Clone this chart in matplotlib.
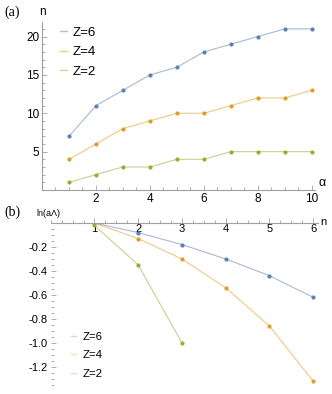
import matplotlib
matplotlib.use("Agg")
import matplotlib.pyplot as plt
from matplotlib.lines import Line2D
from matplotlib.ticker import MultipleLocator

plt.rcParams["font.family"] = ["Liberation Sans", "DejaVu Sans"]

BLUE = "#5E81B5"
ORANGE = "#E19C24"
GREEN = "#8FB032"
AXIS = "#a0a0a0"

# panel (a): n vs alpha
alpha = [1, 2, 3, 4, 5, 6, 7, 8, 9, 10]
n_z6 = [7, 11, 13, 15, 16, 18, 19, 20, 21, 21]
n_z4 = [4, 6, 8, 9, 10, 10, 11, 12, 12, 13]
n_z2 = [1, 2, 3, 3, 4, 4, 5, 5, 5, 5]

# panel (b): ln(a Lambda) vs n
n_b6 = [1, 2, 3, 4, 5, 6]
ln_z6 = [0.0, -0.08, -0.18, -0.30, -0.44, -0.62]
n_b4 = [1, 2, 3, 4, 5, 6]
ln_z4 = [0.0, -0.13, -0.30, -0.54, -0.86, -1.32]
n_b2 = [1, 2, 3]
ln_z2 = [-0.02, -0.35, -1.0]

labels = ["Z=6", "Z=4", "Z=2"]
colors = [BLUE, ORANGE, GREEN]


def style_axis(ax):
    for side in ["top", "right"]:
        ax.spines[side].set_visible(False)
    for side in ["bottom", "left"]:
        ax.spines[side].set_color(AXIS)
        ax.spines[side].set_linewidth(0.8)
    ax.tick_params(which="both", direction="in", color=AXIS, width=0.6)
    ax.tick_params(which="major", length=3.5)
    ax.tick_params(which="minor", length=2)


def draw_series(ax, xs, ys, color):
    ax.plot(xs, ys, color=color, lw=0.8, alpha=0.55, solid_capstyle="butt")
    ax.plot(xs, ys, ls="none", marker="o", ms=3.0, color=color, mec="none")


def legend_handles(line_alpha):
    return [Line2D([], [], color=c, lw=1.0, alpha=line_alpha) for c in colors]


fig = plt.figure(figsize=(3.32, 3.94), dpi=100)

# ---- panel (a)
ax1 = fig.add_axes([42 / 332, 1 - 190 / 394, (315 - 42) / 332, (190 - 22) / 394])
style_axis(ax1)
for ys, c in zip([n_z6, n_z4, n_z2], colors):
    draw_series(ax1, alpha, ys, c)
ax1.set_xlim(0, 10.12)
ax1.set_ylim(0, 21.9)
ax1.set_xticks([2, 4, 6, 8, 10])
ax1.set_yticks([5, 10, 15, 20])
ax1.xaxis.set_minor_locator(MultipleLocator(0.5))
ax1.yaxis.set_minor_locator(MultipleLocator(1))
ax1.tick_params(axis="both", labelsize=8.5, pad=2)
ax1.legend(legend_handles(0.5), labels, loc="upper left",
           bbox_to_anchor=(55 / 332, 1 - 21 / 394),
           bbox_transform=fig.transFigure, frameon=False, fontsize=9.6,
           handlelength=0.5, handletextpad=0.45, labelspacing=0.55,
           borderaxespad=0)

fig.text(4 / 332, 1 - 12 / 394, "(a)", family="Liberation Serif", fontsize=10,
         va="center", ha="left")
fig.text(42 / 332, 1 - 12 / 394, "n", fontsize=8.5, va="center", ha="center")
fig.text(322 / 332, 1 - 183 / 394, "\u03b1", fontsize=9, va="center", ha="center")

# ---- panel (b)
ax2 = fig.add_axes([50.7 / 332, 1 - 386 / 394, (318 - 50.7) / 332, (386 - 223) / 394])
style_axis(ax2)
ax2.spines["left"].set_visible(False)
ax2.spines["bottom"].set_position(("data", 0))
for xs, ys, c in zip([n_b6, n_b4, n_b2], [ln_z6, ln_z4, ln_z2], colors):
    draw_series(ax2, xs, ys, c)
ax2.set_xlim(0, 6.11)
ax2.set_ylim(-1.36, 0)
ax2.set_xticks([1, 2, 3, 4, 5, 6])
ax2.xaxis.set_minor_locator(MultipleLocator(0.25))
ax2.set_yticks([-0.2, -0.4, -0.6, -0.8, -1.0, -1.2])
ax2.set_yticklabels(["-0.2", "-0.4", "-0.6", "-0.8", "-1.0", "-1.2"])
ax2.yaxis.set_minor_locator(MultipleLocator(0.05))
ax2.tick_params(axis="x", labelsize=8, pad=1)
ax2.tick_params(axis="y", labelsize=8, pad=2)
ax2.legend(legend_handles(0.3), labels, loc="upper left",
           bbox_to_anchor=(66 / 332, 1 - 327 / 394),
           bbox_transform=fig.transFigure, frameon=False, fontsize=8.2,
           handlelength=0.5, handletextpad=0.55, labelspacing=0.75,
           borderaxespad=0)

fig.text(4 / 332, 1 - 212 / 394, "(b)", family="Liberation Serif", fontsize=10,
         va="center", ha="left")
fig.text(36 / 332, 1 - 213 / 394, "ln(a\u039b)", fontsize=6.5, va="center", ha="left")
fig.text(323 / 332, 1 - 222 / 394, "n", fontsize=8, va="center", ha="center")

fig.savefig("out.png", dpi=100)
